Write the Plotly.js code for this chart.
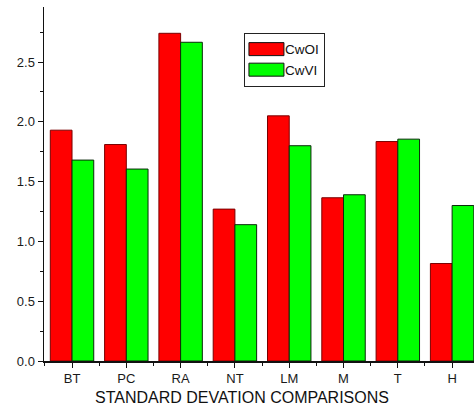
<!DOCTYPE html>
<html>
<head>
<meta charset="utf-8">
<script src="https://cdn.plot.ly/plotly-3.0.1.min.js"></script>
<style>html,body{margin:0;padding:0;background:#fff;}#chart{width:474px;height:411px;}</style>
</head>
<body>
<div id="chart"></div>
<script>
const categories = ['BT', 'PC', 'RA', 'NT', 'LM', 'M', 'T', 'H'];
const seriesNames = ['CwOI', 'CwVI'];
const cwoi = [1.93, 1.81, 2.74, 1.27, 2.05, 1.365, 1.835, 0.815];
const cwvi = [1.68, 1.605, 2.665, 1.14, 1.80, 1.39, 1.855, 1.30];
const yTickVals = [0, 0.5, 1.0, 1.5, 2.0, 2.5];
const yTickText = ['0.0', '0.5', '1.0', '1.5', '2.0', '2.5'];
const xTitle = 'STANDARD DEVATION COMPARISONS';

const FONT = 'Arial, "Liberation Sans", sans-serif';
const xIdx = categories.map((_, i) => i);

const traces = [
  {
    type: 'bar', name: seriesNames[0], x: xIdx, y: cwoi,
    marker: {color: '#ff0000', line: {color: '#7a0000', width: 1}}
  },
  {
    type: 'bar', name: seriesNames[1], x: xIdx, y: cwvi,
    marker: {color: '#00ff00', line: {color: '#0a2a0a', width: 1}}
  }
];

const layout = {
  width: 474, height: 411,
  margin: {l: 44, r: 0, t: 7, b: 50, pad: 0},
  paper_bgcolor: '#ffffff', plot_bgcolor: '#ffffff',
  font: {family: FONT, size: 13, color: '#1a1a1a'},
  barmode: 'group', bargap: 0.2, bargroupgap: 0,
  showlegend: true,
  legend: {
    x: 0.465, y: 0.927, xanchor: 'left', yanchor: 'top',
    bgcolor: '#ffffff', bordercolor: '#222222', borderwidth: 1,
    font: {family: FONT, size: 13.5, color: '#111111'},
    itemwidth: 30, tracegroupgap: 0, itemclick: false
  },
  xaxis: {
    type: 'linear', range: [-0.516, 7.403],
    tickmode: 'array', tickvals: xIdx, ticktext: categories,
    ticks: 'outside', ticklen: 5, tickwidth: 1, tickcolor: '#111',
    minor: {tick0: 0.5, dtick: 1, ticks: 'outside', ticklen: 3, tickwidth: 1, tickcolor: '#111', showgrid: false},
    showline: true, linecolor: '#111', linewidth: 1.5,
    showgrid: false, zeroline: false,
    tickfont: {family: FONT, size: 13, color: '#1a1a1a'},
    fixedrange: true
  },
  yaxis: {
    range: [0, 2.96],
    tickmode: 'array', tickvals: yTickVals, ticktext: yTickText,
    ticks: 'outside', ticklen: 5, tickwidth: 1, tickcolor: '#111',
    minor: {tick0: 0.25, dtick: 0.5, ticks: 'outside', ticklen: 3, tickwidth: 1, tickcolor: '#111', showgrid: false},
    showline: true, linecolor: '#111', linewidth: 1.5,
    showgrid: false, zeroline: false,
    tickfont: {family: FONT, size: 13, color: '#1a1a1a'},
    fixedrange: true
  },
  annotations: [{
    text: xTitle, xref: 'paper', yref: 'paper',
    x: 0.4616, y: -0.104, xanchor: 'center', yanchor: 'middle',
    showarrow: false, font: {family: FONT, size: 16, color: '#111111'}
  }]
};

Plotly.newPlot('chart', traces, layout, {displayModeBar: false, staticPlot: true}).then(function (gd) {
  // widen the legend swatches to match the reference
  gd.querySelectorAll('.legend .traces .legendpoints path').forEach(function (p) {
    p.setAttribute('d', 'M19,6.5H-16V-6.5H19Z');
    p.style.stroke = '#111';
    p.style.strokeWidth = '1px';
  });
});
</script>
</body>
</html>
